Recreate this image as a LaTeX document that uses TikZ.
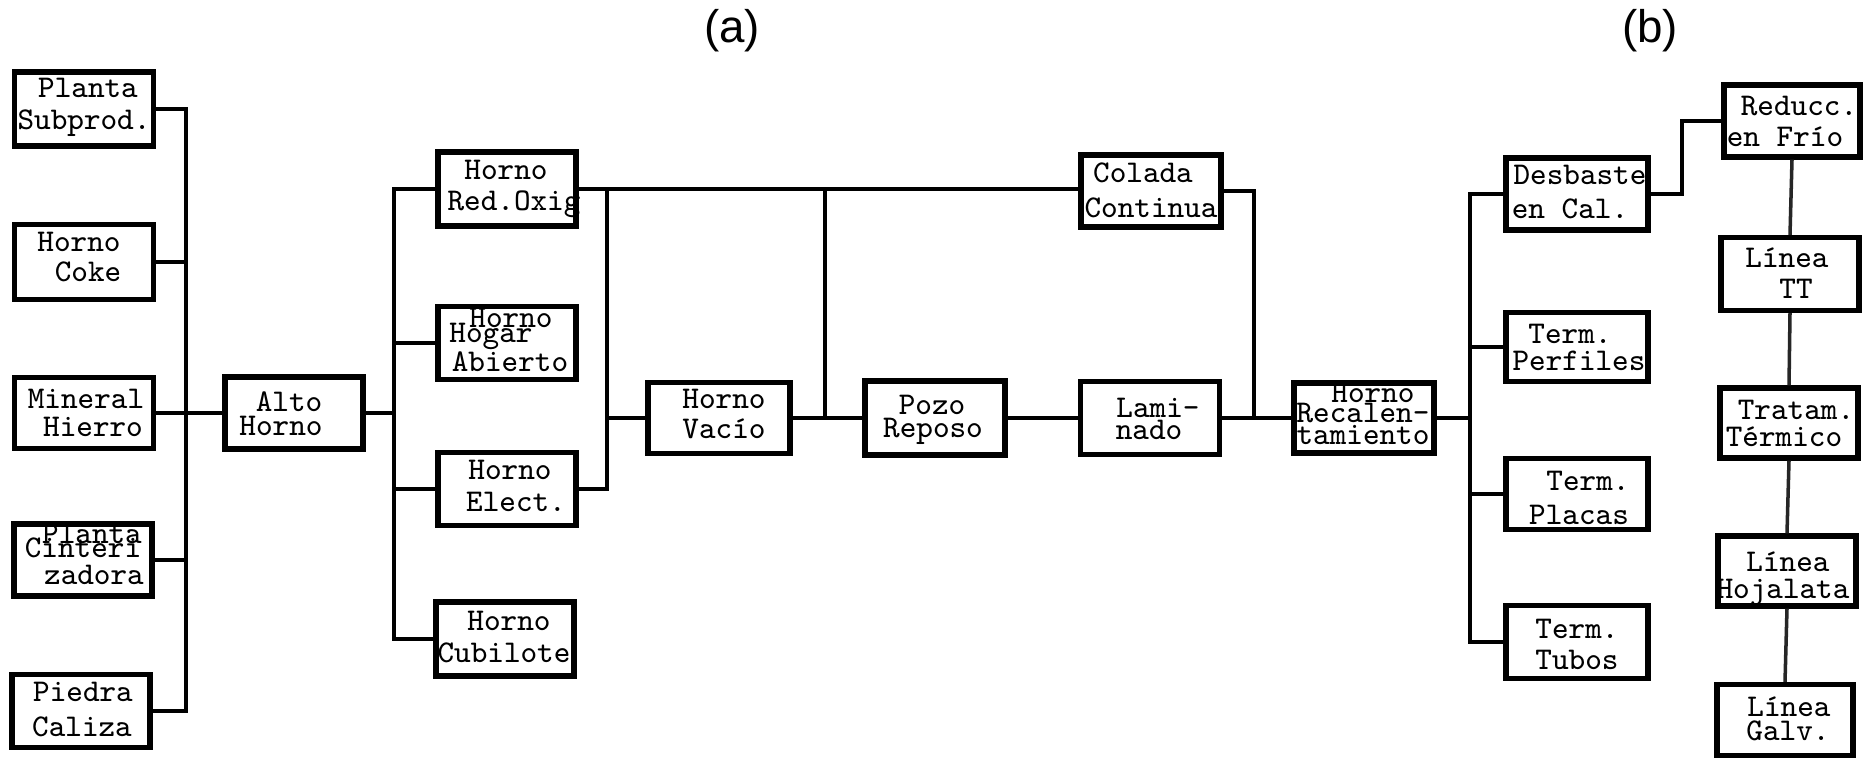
\documentclass[tikz,border=0pt]{standalone}
\usepackage{fontspec}
\newfontfamily\hd{Liberation Sans}
\newdimen\pxu \pxu=0.01cm
% one typed line: [horizontal shift]{baseline offset below centre}{text}, zero size
\newcommand\Lh[3][0]{\makebox[0pt]{\raisebox{-#2\pxu}[0pt][0pt]{\kern#1\pxu#3\kern-#1\pxu}}}
\begin{document}
\begin{tikzpicture}[x=0.01cm,y=-0.01cm,
  bx/.style={draw, line width=1.5pt, inner sep=0pt, font=\ttfamily\fontsize{9}{10}\selectfont},
  sz/.style 2 args={minimum width=#1*0.01cm, minimum height=#2*0.01cm},
  ln/.style={line width=1.2pt},
  vln/.style={line width=1.0pt, black!85},
  hdr/.style={font=\hd\fontsize{13}{15}\selectfont}]
\fill[white] (0,0) rectangle (1875,761);
\useasboundingbox (0,0) rectangle (1875,761);

% headings
\node[hdr] (ha) at (732,31) {(a)};
\node[hdr] (hb) at (1650,31) {(b)};

% raw materials
\node[bx, sz={139}{74}] (ps)  at (84,109) {\Lh[4]{-11}{Planta}\Lh{21}{Subprod.}};
\node[bx, sz={139}{75}] (hc)  at (84,262) {\Lh[-5]{-10}{Horno}\Lh[4]{20}{Coke}};
\node[bx, sz={139}{71}] (mh)  at (84,413) {\Lh[2]{-4}{Mineral}\Lh[9]{24}{Hierro}};
\node[bx, sz={138}{72}] (pc)  at (83,560) {\Lh[9]{-16}{Planta}\Lh{-2}{Cinteri}\Lh[11]{25}{zadora}};
\node[bx, sz={138}{73}] (pca) at (81,711) {\Lh[2]{-9}{Piedra}\Lh[1]{26}{Caliza}};

% blast furnace
\node[bx, sz={138}{72}] (ah) at (294,413) {\Lh[-5]{-1}{Alto}\Lh[-13]{23}{Horno}};

% steelmaking furnaces
\node[bx, sz={138}{74}] (ro) at (507,189) {\Lh[-1]{-9}{Horno}\Lh[7]{22}{Red.Oxig}};
\node[bx, sz={138}{73}] (hg) at (507,343) {\Lh[4]{-15}{Horno}\Lh[-16]{0}{Hogar}\Lh[3]{29}{Abierto}};
\node[bx, sz={138}{73}] (el) at (507,489) {\Lh[3]{-9}{Horno}\Lh[9]{22}{Elect.}};
\node[bx, sz={138}{74}] (cu) at (505,639) {\Lh[4]{-8}{Horno}\Lh[-1]{24}{Cubilote}};

% secondary treatment, casting and rolling
\node[bx, sz={142}{71}] (vac) at (719,418) {\Lh[5]{-9}{Horno}\Lh[5]{21}{Vacío}};
\node[bx, sz={140}{74}] (po)  at (935,418) {\Lh[-3]{-3}{Pozo}\Lh[-2]{20}{Reposo}};
\node[bx, sz={139}{73}] (la)  at (1150,418) {\Lh[8]{0}{Lami-}\Lh[-1]{22}{nado}};
\node[bx, sz={140}{72}] (co)  at (1151,191) {\Lh[-8]{-8}{Colada}\Lh{27}{Continua}};
\node[bx, sz={140}{70}] (re)  at (1364,418) {\Lh[9]{-15}{Horno}\Lh[-1]{5}{Recalen-}\Lh[-1]{27}{tamiento}};

% hot finishing
\node[bx, sz={142}{72}] (ds) at (1577,194) {\Lh[3]{-9}{Desbaste}\Lh[-7]{25}{en Cal.}};
\node[bx, sz={142}{69}] (pf) at (1577,347) {\Lh[-7]{-3}{Term.}\Lh[2]{24}{Perfiles}};
\node[bx, sz={142}{71}] (pl) at (1577,494) {\Lh[11]{-3}{Term.}\Lh[2]{31}{Placas}};
\node[bx, sz={142}{73}] (tu) at (1577,642) {\Lh{-3}{Term.}\Lh{28}{Tubos}};

% cold line
\node[bx, sz={136}{72}] (rf) at (1792,121) {\Lh[7]{-5}{Reducc.}\Lh[-7]{26}{en Frío}};
\node[bx, sz={138}{73}] (tt) at (1790,274) {\Lh[-3]{-6}{Línea}\Lh[6]{25}{TT}};
\node[bx, sz={138}{70}] (tm) at (1789,423) {\Lh[7]{-3}{Tratam.}\Lh[-5]{24}{Térmico}};
\node[bx, sz={138}{70}] (hj) at (1787,571) {\Lh[1]{1}{Línea}\Lh[-4]{28}{Hojalata}};
\node[bx, sz={136}{71}] (gv) at (1785,720) {\Lh[4]{-3}{Línea}\Lh[3]{20}{Galv.}};

% bus positions
\coordinate (b1) at (186,0);
\coordinate (b2) at (394,0);
\coordinate (b3) at (607,0);
\coordinate (b4) at (825,0);
\coordinate (b5) at (1254,0);
\coordinate (b6) at (1470,0);
\coordinate (b7) at (1682,0);

% raw materials to blast furnace
\draw[ln] (ps.east) -- (ps.east -| b1) -- (pca.east -| b1) -- (pca.east);
\draw[ln] (hc.east) -- (hc.east -| b1);
\draw[ln] (pc.east) -- (pc.east -| b1);
\draw[ln] (mh.east) -- (ah.west);

% blast furnace to steelmaking
\draw[ln] (ah.east) -- (ah.east -| b2);
\draw[ln] (ro.west) -- (ro.west -| b2) -- (cu.west -| b2) -- (cu.west);
\draw[ln] (hg.west) -- (hg.west -| b2);
\draw[ln] (el.west) -- (el.west -| b2);

% steel to casting and vacuum furnace
\draw[ln] (ro.east) -- (ro.east -| co.west);
\draw[ln] (ro.east -| b3) -- (el.east -| b3) -- (el.east);
\draw[ln] (vac.west -| b3) -- (vac.west);
\draw[ln] (ro.east -| b4) -- (vac.east -| b4);
\draw[ln] (vac.east) -- (po.west);
\draw[ln] (po.east) -- (la.west);
\draw[ln] (la.east) -- (re.west);
\draw[ln] (co.east) -- (co.east -| b5) -- (re.west -| b5);

% reheating to finishing
\draw[ln] (re.east) -- (re.east -| b6);
\draw[ln] (ds.west) -- (ds.west -| b6) -- (tu.west -| b6) -- (tu.west);
\draw[ln] (pf.west) -- (pf.west -| b6);
\draw[ln] (pl.west) -- (pl.west -| b6);
\draw[ln] (ds.east) -- (ds.east -| b7) -- (rf.west -| b7) -- (rf.west);

% cold line chain
\draw[vln] (rf.south) -- (tt.north);
\draw[vln] (tt.south) -- (tm.north);
\draw[vln] (tm.south) -- (hj.north);
\draw[vln] (hj.south) -- (gv.north);
\end{tikzpicture}
\end{document}
